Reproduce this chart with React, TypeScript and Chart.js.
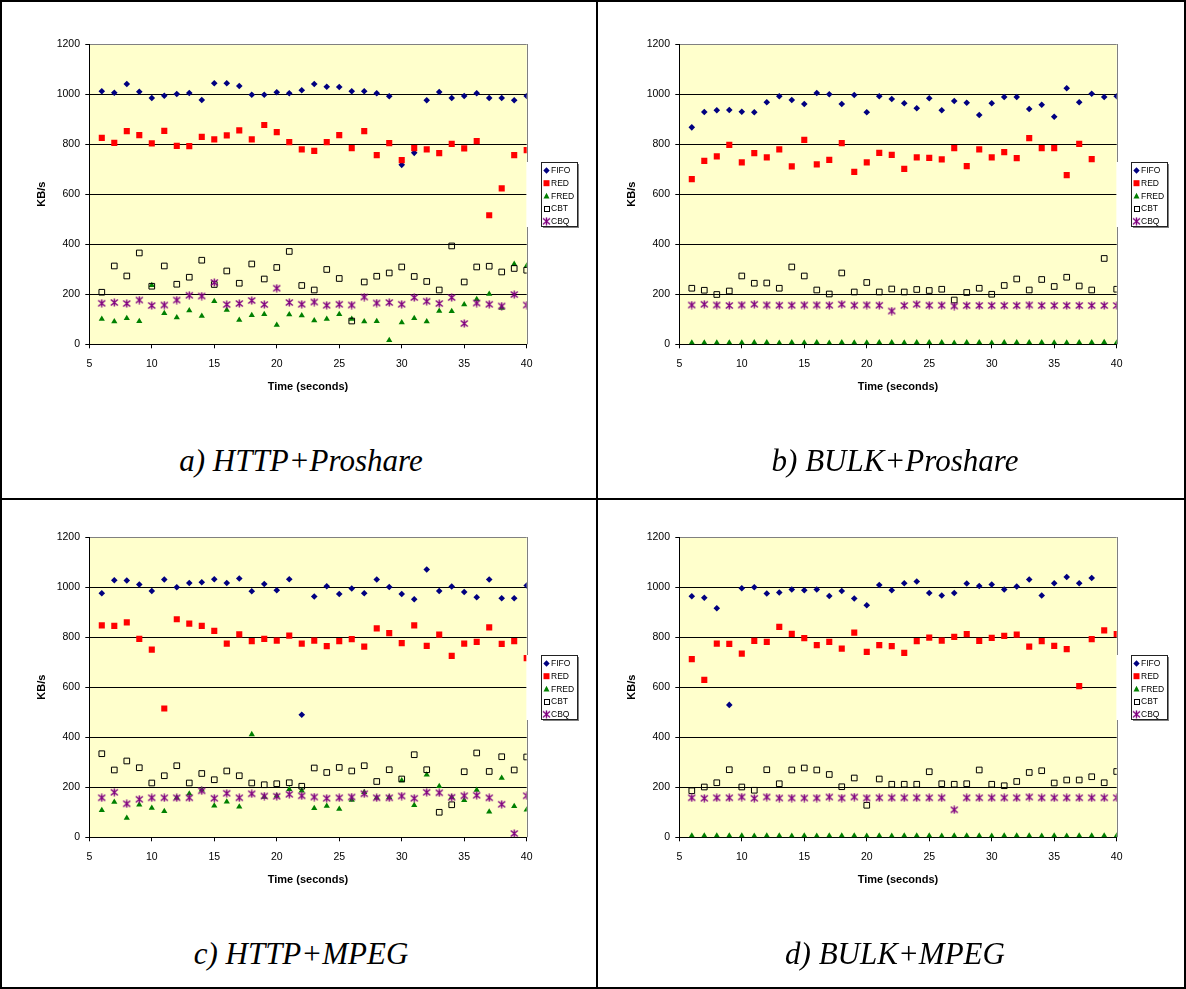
import React, { useEffect, useRef } from "react";
import { Chart, registerables } from "chart.js";

Chart.register(...registerables);

const TIME = [6, 7, 8, 9, 10, 11, 12, 13, 14, 15, 16, 17, 18, 19, 20, 21, 22, 23, 24, 25, 26, 27, 28, 29, 30, 31, 32, 33, 34, 35, 36, 37, 38, 39, 40];
const SERIES_NAMES = ["FIFO", "RED", "FRED", "CBT", "CBQ"];
const Y_TICKS = [0, 200, 400, 600, 800, 1000, 1200];
const X_TICKS = [5, 10, 15, 20, 25, 30, 35, 40];
const CAPTIONS = ["a) HTTP+Proshare", "b) BULK+Proshare", "c) HTTP+MPEG", "d) BULK+MPEG"];

// a) HTTP+Proshare
const A_FIFO = [1011, 1005, 1040, 1009, 984, 993, 1000, 1004, 976, 1043, 1043, 1032, 997, 997, 1007, 1003, 1015, 1040, 1029, 1028, 1011, 1011, 1003, 991, 717, 765, 975, 1008, 984, 992, 1003, 984, 984, 975, 992];
const A_RED = [825, 805, 852, 836, 803, 853, 793, 792, 829, 819, 835, 855, 819, 876, 848, 808, 779, 773, 808, 836, 784, 852, 756, 804, 736, 784, 779, 764, 801, 783, 812, 516, 623, 756, 776];
const A_FRED = [101, 91, 104, 92, 236, 124, 107, 135, 113, 172, 137, 97, 116, 120, 77, 119, 115, 95, 101, 120, 101, 91, 92, 16, 87, 104, 91, 133, 132, 159, 180, 201, 145, 320, 313];
const A_CBT = [208, 313, 273, 365, 232, 313, 240, 268, 336, 239, 293, 244, 321, 261, 307, 371, 235, 217, 299, 263, 93, 249, 272, 285, 309, 271, 251, 217, 393, 249, 309, 312, 289, 303, 296];
const A_CBQ = [164, 167, 163, 177, 155, 157, 177, 196, 193, 247, 159, 163, 175, 159, 224, 167, 160, 169, 156, 160, 157, 189, 165, 167, 160, 187, 172, 163, 187, 83, 165, 160, 153, 199, 157];

// b) BULK+Proshare
const B_FIFO = [867, 928, 935, 936, 929, 927, 967, 991, 976, 960, 1004, 999, 960, 996, 927, 991, 980, 963, 943, 983, 935, 972, 965, 916, 963, 988, 988, 940, 957, 909, 1023, 967, 1001, 988, 991];
const B_RED = [660, 733, 751, 797, 727, 764, 747, 779, 711, 817, 719, 737, 804, 689, 727, 765, 757, 701, 747, 745, 739, 784, 712, 779, 747, 768, 744, 824, 784, 784, 676, 801, 740, null, null];
const B_FRED = [6, 6, 6, 6, 6, 7, 7, 5, 7, 6, 7, 5, 7, 6, 6, 7, 7, 6, 7, 7, 7, 5, 7, 7, 5, 7, 7, 7, 7, 6, 6, 7, 7, 8, 6];
const B_CBT = [224, 216, 199, 213, 273, 244, 245, 224, 309, 273, 217, 201, 285, 209, 247, 209, 221, 209, 219, 215, 220, 177, 207, 224, 200, 235, 261, 217, 259, 231, 268, 233, 217, 343, 220];
const B_CBQ = [157, 160, 157, 155, 157, 160, 157, 156, 156, 157, 157, 156, 160, 156, 157, 156, 133, 155, 160, 156, 156, 153, 155, 155, 155, 155, 155, 157, 155, 155, 155, 155, 155, 155, 155];

// c) HTTP+MPEG
const C_FIFO = [975, 1027, 1026, 1010, 984, 1030, 999, 1016, 1019, 1031, 1016, 1034, 983, 1012, 987, 1031, 490, 962, 1003, 972, 994, 975, 1030, 1000, 972, 951, 1070, 984, 1002, 980, 959, 1030, 955, 955, 1006];
const C_RED = [847, 845, 859, 793, 750, 515, 871, 854, 845, 825, 774, 811, 784, 793, 786, 806, 774, 786, 764, 784, 792, 762, 835, 816, 776, 847, 765, 810, 725, 774, 781, 839, 773, 784, 716];
const C_FRED = [108, 141, 77, 130, 117, 104, 158, 174, 190, 126, 142, 122, 411, 161, 166, 192, 186, 116, 125, 113, 149, 180, 158, 160, 227, 128, 250, 204, 160, 148, 189, 102, 237, 124, 110];
const C_CBT = [334, 269, 305, 278, 217, 246, 286, 217, 255, 230, 265, 246, 217, 210, 214, 218, 204, 277, 259, 279, 265, 286, 223, 270, 233, 330, 270, 100, 130, 262, 337, 263, 322, 269, 321];
const C_CBQ = [158, 180, 134, 152, 158, 158, 158, 158, 186, 156, 176, 158, 174, 165, 164, 172, 166, 161, 156, 158, 161, 174, 158, 158, 165, 156, 180, 178, 160, 166, 168, 158, 132, 15, 166];

// d) BULK+MPEG
const D_FIFO = [963, 957, 915, 529, 995, 999, 974, 978, 990, 987, 990, 964, 984, 954, 927, 1008, 987, 1015, 1022, 976, 966, 976, 1014, 1004, 1010, 990, 1002, 1030, 966, 1015, 1040, 1015, 1036, null, null];
const D_RED = [712, 629, 774, 773, 734, 785, 781, 841, 813, 796, 768, 781, 754, 818, 741, 768, 764, 737, 784, 798, 786, 801, 812, 785, 797, 805, 810, 762, 784, 765, 752, 604, 792, 827, 812];
const D_FRED = [6, 6, 6, 6, 6, 5, 6, 6, 5, 6, 5, 6, 6, 6, 5, 6, 5, 6, 6, 6, 5, 6, 6, 6, 5, 6, 6, 6, 5, 6, 5, 6, 6, 6, 6];
const D_CBT = [186, 201, 218, 270, 201, 188, 270, 214, 269, 277, 269, 251, 202, 237, 128, 233, 212, 212, 212, 262, 214, 212, 214, 269, 212, 206, 223, 259, 266, 217, 229, 229, 242, 218, 263];
const D_CBQ = [158, 156, 158, 158, 161, 156, 161, 157, 157, 157, 157, 161, 157, 161, 157, 158, 158, 158, 158, 158, 158, 110, 158, 158, 158, 158, 158, 161, 158, 158, 158, 158, 158, 158, 158];

const PANELS = [
  { series: [A_FIFO, A_RED, A_FRED, A_CBT, A_CBQ], left: 0, top: 0 },
  { series: [B_FIFO, B_RED, B_FRED, B_CBT, B_CBQ], left: 590, top: 0 },
  { series: [C_FIFO, C_RED, C_FRED, C_CBT, C_CBQ], left: 0, top: 493 },
  { series: [D_FIFO, D_RED, D_FRED, D_CBT, D_CBQ], left: 590, top: 493 },
];

const COLORS = ["#000080", "#FF0000", "#008000", "#000000", "#800080"];
const CANVAS_W = 596;
const CANVAS_H = 400;
const AXIS_FONT = '"Liberation Sans", Arial, sans-serif';

function makeStar(): HTMLCanvasElement {
  const c = document.createElement("canvas");
  c.width = 9;
  c.height = 9;
  const g = c.getContext("2d")!;
  g.strokeStyle = "#800080";
  g.lineWidth = 1.4;
  g.beginPath();
  g.moveTo(1, 1.5);
  g.lineTo(8, 7.5);
  g.moveTo(8, 1.5);
  g.lineTo(1, 7.5);
  g.moveTo(4.5, 0.5);
  g.lineTo(4.5, 8.5);
  g.stroke();
  return c;
}

function drawMarker(ctx: CanvasRenderingContext2D, i: number, x: number, y: number, star: HTMLCanvasElement) {
  ctx.save();
  if (i === 0) {
    ctx.fillStyle = COLORS[0];
    ctx.beginPath();
    ctx.moveTo(x, y - 3.2);
    ctx.lineTo(x + 3.2, y);
    ctx.lineTo(x, y + 3.2);
    ctx.lineTo(x - 3.2, y);
    ctx.closePath();
    ctx.fill();
  } else if (i === 1) {
    ctx.fillStyle = COLORS[1];
    ctx.fillRect(x - 3, y - 3, 6, 6);
  } else if (i === 2) {
    ctx.fillStyle = COLORS[2];
    ctx.beginPath();
    ctx.moveTo(x, y - 3.2);
    ctx.lineTo(x + 3, y + 2.5);
    ctx.lineTo(x - 3, y + 2.5);
    ctx.closePath();
    ctx.fill();
  } else if (i === 3) {
    ctx.strokeStyle = "#000";
    ctx.lineWidth = 1;
    ctx.strokeRect(Math.round(x - 3) + 0.5, Math.round(y - 3) + 0.5, 5, 5);
  } else {
    ctx.drawImage(star, x - 4.5, y - 4.5);
  }
  ctx.restore();
}

function Panel({ series, left, top }: { series: (number | null)[][]; left: number; top: number }) {
  const ref = useRef<HTMLCanvasElement | null>(null);
  useEffect(() => {
    const canvas = ref.current;
    if (!canvas) return;
    const star = makeStar();
    const styles: any[] = ["rectRot", "rect", "triangle", "rect", star];
    const radii = [3.3, 4.3, 3.6, 4, 4.5];
    const datasets = SERIES_NAMES.map((name, i) => ({
      label: name,
      data: TIME.map((t, k) => ({ x: t, y: series[i][k] })).filter((p) => p.y !== null),
      pointStyle: styles[i],
      pointRadius: radii[i],
      pointHoverRadius: radii[i],
      backgroundColor: i === 3 ? "rgba(0,0,0,0)" : COLORS[i],
      borderColor: COLORS[i],
      borderWidth: i === 3 ? 1 : 0,
      showLine: false,
      order: 5 - i,
    }));

    const bgPlugin = {
      id: "plotBg",
      beforeDraw(chart: any) {
        const { ctx, chartArea } = chart;
        ctx.save();
        ctx.fillStyle = "#FFFFCC";
        ctx.fillRect(chartArea.left, chartArea.top, chartArea.right - chartArea.left, chartArea.bottom - chartArea.top);
        ctx.restore();
      },
      afterDraw(chart: any) {
        const { ctx, chartArea } = chart;
        ctx.save();
        const rx = Math.round(chartArea.right) + 0.5;
        ctx.strokeStyle = "#808080";
        ctx.lineWidth = 1;
        ctx.beginPath();
        ctx.moveTo(rx, chartArea.top);
        ctx.lineTo(rx, chartArea.bottom);
        ctx.stroke();
        // legend
        const lx = Math.round(chartArea.right + 14);
        const ly = Math.round(chartArea.top + 118);
        const lw = 36;
        const lh = 64;
        ctx.fillStyle = "#FFFFFF";
        ctx.fillRect(rx - 1, ly, 3, lh + 1);
        ctx.fillRect(lx, ly, lw, lh);
        ctx.strokeStyle = "#222";
        ctx.lineWidth = 1;
        ctx.strokeRect(lx + 0.5, ly + 0.5, lw, lh);
        ctx.fillStyle = "#808080";
        ctx.fillRect(lx + lw + 1, ly + 2, 1, lh);
        ctx.fillRect(lx + 2, ly + lh + 1, lw, 1);
        ctx.font = `8.5px ${AXIS_FONT}`;
        ctx.textBaseline = "middle";
        ctx.textAlign = "left";
        SERIES_NAMES.forEach((name, i) => {
          const y = ly + 8.5 + i * 12.7;
          drawMarker(ctx, i, lx + 5.5, y, star);
          ctx.fillStyle = "#000";
          ctx.fillText(name, lx + 10, y + 0.5);
        });
        ctx.restore();
      },
    };

    const chart = new Chart(canvas, {
      type: "scatter",
      data: { datasets },
      plugins: [bgPlugin],
      options: {
        animation: false,
        responsive: false,
        devicePixelRatio: 1,
        layout: { padding: { left: 0, top: 44, right: CANVAS_W - 526.7, bottom: 0 } },
        plugins: { legend: { display: false }, tooltip: { enabled: false } },
        scales: {
          x: {
            type: "linear",
            min: X_TICKS[0],
            max: X_TICKS[X_TICKS.length - 1],
            afterBuildTicks: (s: any) => {
              s.ticks = X_TICKS.map((v) => ({ value: v }));
            },
            afterFit: (s: any) => {
              s.height = CANVAS_H - 344.3;
            },
            ticks: {
              color: "#000",
              font: { family: AXIS_FONT, size: 10.5 },
              padding: 9.5,
              maxRotation: 0,
              autoSkip: false,
              callback: (v: any) => String(v),
            },
            grid: { display: true, drawOnChartArea: false, drawTicks: true, tickLength: 4, color: "#000", tickColor: "#000" },
            border: { display: true, color: "#000", width: 1 },
            title: {
              display: true,
              text: "Time (seconds)",
              color: "#000",
              font: { family: AXIS_FONT, size: 11, weight: "bold" },
              padding: { top: 0, bottom: 6.7 },
            },
          },
          y: {
            type: "linear",
            min: Y_TICKS[0],
            max: Y_TICKS[Y_TICKS.length - 1],
            afterBuildTicks: (s: any) => {
              s.ticks = Y_TICKS.map((v) => ({ value: v }));
            },
            afterFit: (s: any) => {
              s.width = 89.3;
            },
            ticks: {
              color: "#000",
              font: { family: AXIS_FONT, size: 10.5 },
              padding: 5.3,
              callback: (v: any) => String(v),
            },
            grid: {
              display: true,
              drawTicks: true,
              tickLength: 4,
              lineWidth: 1,
              color: (c: any) => (c.tick && c.tick.value === 1200 ? "#808080" : "#000"),
              tickColor: "#000",
            },
            border: { display: true, color: "#000", width: 1 },
            title: {
              display: true,
              text: "KB/s",
              color: "#000",
              font: { family: AXIS_FONT, size: 11, weight: "bold" },
              padding: { top: 35.1, bottom: 0 },
            },
          },
        },
      } as any,
    });
    return () => chart.destroy();
  }, [series]);

  return (
    <canvas
      ref={ref}
      width={CANVAS_W}
      height={CANVAS_H}
      style={{ position: "absolute", left, top, width: CANVAS_W, height: CANVAS_H }}
    />
  );
}

export default function App() {
  const cells = [
    { left: 0, width: 596, top: 445 },
    { left: 598, width: 588, top: 445 },
    { left: 0, width: 596, top: 938 },
    { left: 598, width: 588, top: 938 },
  ];
  return (
    <div
      style={{
        position: "fixed",
        left: 0,
        top: 0,
        width: 1186,
        height: 989,
        background: "#fff",
        overflow: "hidden",
      }}
    >
      {PANELS.map((p, i) => (
        <Panel key={i} series={p.series} left={p.left} top={p.top} />
      ))}
      {CAPTIONS.map((c, i) => (
        <div
          key={c}
          style={{
            position: "absolute",
            left: cells[i].left + 3,
            width: cells[i].width,
            top: cells[i].top,
            textAlign: "center",
            fontFamily: '"Liberation Serif", "Times New Roman", serif',
            fontStyle: "italic",
            fontSize: 31,
            lineHeight: "31px",
            color: "#000",
            whiteSpace: "nowrap",
          }}
        >
          {c}
        </div>
      ))}
      <div style={{ position: "absolute", left: 0, top: 0, width: 1186, height: 989, boxSizing: "border-box", border: "2px solid #000" }} />
      <div style={{ position: "absolute", left: 596, top: 0, width: 2, height: 989, background: "#000" }} />
      <div style={{ position: "absolute", left: 0, top: 498, width: 1186, height: 2, background: "#000" }} />
    </div>
  );
}
